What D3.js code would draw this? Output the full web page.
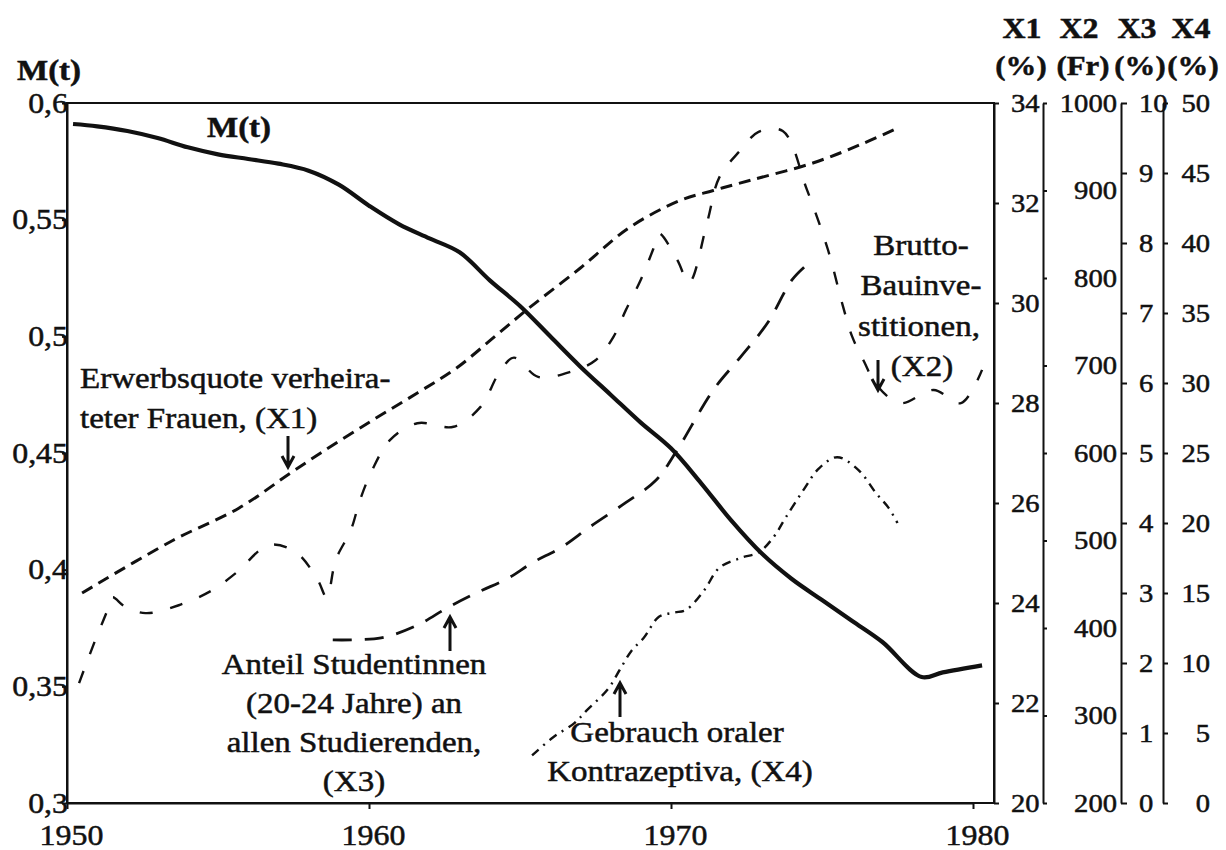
<!DOCTYPE html>
<html>
<head>
<meta charset="utf-8">
<script src="https://cdn.jsdelivr.net/npm/d3@7"></script>
<style>
  html, body { margin: 0; padding: 0; background: #fff; }
  svg { display: block; }
</style>
</head>
<body>
<svg id="chart" width="1226" height="850"></svg>
<script>
// ---------- data ----------
// M(t), left axis
const mYears  = [1950.2, 1951, 1952, 1953, 1954, 1955, 1956, 1957, 1958, 1959, 1960, 1961, 1962, 1963, 1964, 1965, 1966, 1967, 1968, 1969, 1970, 1971, 1972, 1973, 1974, 1975, 1976, 1977, 1978.3, 1979, 1980.3];
const mValues = [0.591, 0.590, 0.588, 0.585, 0.581, 0.578, 0.576, 0.574, 0.571, 0.565, 0.556, 0.548, 0.542, 0.536, 0.524, 0.513, 0.500, 0.487, 0.475, 0.463, 0.452, 0.437, 0.421, 0.407, 0.396, 0.387, 0.378, 0.369, 0.354, 0.356, 0.359];

// X1: Erwerbsquote verheirateter Frauen (%)
const x1Years  = [1950.5, 1953.5, 1955.7, 1957.4, 1958.4, 1960.1, 1961.6, 1962.9, 1964.3, 1965.3, 1967.0, 1968.6, 1970.3, 1971.4, 1972.6, 1974.7, 1976.4, 1977.5];
const x1Values = [24.2, 25.25, 25.9, 26.6, 27.0, 27.65, 28.2, 28.7, 29.4, 29.9, 30.7, 31.5, 32.05, 32.25, 32.45, 32.8, 33.2, 33.5];

// X2: Brutto-Bauinvestitionen (Fr)
const x2Years  = [1950.4, 1950.9, 1951.3, 1951.5, 1951.9, 1952.6, 1953.7, 1954.8, 1955.6, 1956.7, 1957.6, 1958.3, 1958.6, 1958.9, 1959.4, 1959.7, 1960.1, 1960.7, 1961.6, 1962.8, 1963.7, 1964.3, 1964.8, 1965.6, 1966.7, 1967.5, 1968.1, 1968.5, 1969.0, 1969.4, 1969.6, 1970.2, 1970.6, 1971.2, 1971.6, 1972.3, 1972.9, 1973.7, 1974.5, 1975.2, 1975.7, 1976.0, 1976.4, 1976.8, 1977.6, 1978.7, 1979.6, 1980.3];
const x2Values = [337, 383, 417, 435, 425, 417, 426, 443, 463, 495, 486, 455, 435, 478, 512, 546, 580, 615, 634, 630, 653, 691, 709, 687, 693, 706, 733, 763, 798, 832, 851, 821, 795, 864, 915, 946, 967, 968, 901, 832, 767, 733, 704, 678, 657, 672, 657, 695];

// X3: Anteil Studentinnen (20-24 Jahre) an allen Studierenden (%)
const x3Years  = [1958.8, 1960.4, 1961.6, 1962.6, 1963.6, 1964.6, 1965.4, 1966.4, 1967.3, 1968.5, 1969.5, 1970.2, 1971.4, 1972.3, 1973.2, 1974.0, 1974.5];
const x3Values = [2.33, 2.36, 2.54, 2.79, 3.01, 3.21, 3.43, 3.66, 3.94, 4.29, 4.61, 5.04, 5.9, 6.37, 6.86, 7.47, 7.69];

// X4: Gebrauch oraler Kontrazeptiva (%)
const x4Years  = [1965.4, 1966.1, 1966.8, 1967.2, 1967.9, 1968.3, 1968.7, 1969.1, 1969.6, 1970.1, 1970.5, 1971.1, 1971.6, 1972.3, 1972.9, 1973.4, 1973.8, 1974.4, 1974.9, 1975.5, 1976.2, 1976.8, 1977.2, 1977.5];
const x4Values = [3.4, 4.7, 5.7, 6.6, 8.1, 9.5, 10.9, 11.8, 13.3, 13.6, 13.8, 15.2, 16.8, 17.5, 17.9, 19.0, 20.4, 22.4, 23.9, 24.7, 23.8, 22.1, 21.1, 20.0];

// tick values
const yearTicks = [1950, 1960, 1970, 1980];
const mTicks  = [0.3, 0.35, 0.4, 0.45, 0.5, 0.55, 0.6];
const x1Ticks = [20, 22, 24, 26, 28, 30, 32, 34];
const x2Ticks = [200, 300, 400, 500, 600, 700, 800, 900, 1000];
const x3Ticks = [0, 1, 2, 3, 4, 5, 6, 7, 8, 9, 10];
const x4Ticks = [0, 5, 10, 15, 20, 25, 30, 35, 40, 45, 50];

// ---------- layout ----------
const FONT = "'Liberation Serif', 'Times New Roman', Times, serif";
const SX = 1.1; // horizontal widening of all lettering
const INK = "#111";
const plotLeft = 67, plotRight = 994, plotTop = 103, plotBottom = 803;

const svg = d3.select("#chart");

const x  = d3.scaleLinear().domain([1950, 1980]).range([plotLeft, 973]);
const yM = d3.scaleLinear().domain([0.3, 0.6]).range([plotBottom, plotTop]);
const y1 = d3.scaleLinear().domain([20, 34]).range([plotBottom, plotTop]);
const y2 = d3.scaleLinear().domain([200, 1000]).range([plotBottom, plotTop]);
const y3 = d3.scaleLinear().domain([0, 10]).range([plotBottom, plotTop]);
const y4 = d3.scaleLinear().domain([0, 50]).range([plotBottom, plotTop]);

function widenTicks(g, size) {
  g.selectAll(".tick text").each(function () {
    const t = d3.select(this);
    const tx = +t.attr("x") || 0;
    t.attr("x", tx / SX).attr("transform", `scale(${SX},1)`);
  });
  g.attr("font-family", FONT).attr("font-size", size);
  g.selectAll("text").attr("fill", INK).attr("stroke", INK).attr("stroke-width", 0.5);
  g.selectAll("line, path").attr("stroke", INK).attr("stroke-width", 2);
}

function label(str, px, py, opts = {}) {
  const g = svg.append("g").attr("transform", `translate(${px},${py}) scale(${SX},1)`);
  g.append("text")
    .attr("font-family", FONT)
    .attr("font-size", opts.size || 30)
    .attr("font-weight", opts.bold ? "bold" : "normal")
    .attr("text-anchor", opts.anchor || "start")
    .attr("fill", INK)
    .attr("stroke", INK)
    .attr("stroke-width", 0.5)
    .text(str);
}

// ---------- frame & axes ----------
svg.append("rect")
  .attr("x", plotLeft).attr("y", plotTop)
  .attr("width", plotRight - plotLeft).attr("height", plotBottom - plotTop)
  .attr("fill", "none").attr("stroke", INK).attr("stroke-width", 2);

const gLeft = svg.append("g").attr("transform", `translate(${plotLeft},0)`)
  .call(d3.axisLeft(yM).tickValues(mTicks).tickSize(5).tickSizeOuter(0).tickPadding(-6)
    .tickFormat(d => d3.format(".2~f")(d).replace(".", ",")));
widenTicks(gLeft, 29);

const gBottom = svg.append("g").attr("transform", `translate(0,${plotBottom})`)
  .call(d3.axisBottom(x).tickValues(yearTicks).tickSize(6).tickSizeOuter(0).tickPadding(15)
    .tickFormat(d3.format("d")));
gBottom.selectAll(".tick text").attr("x", 4);
widenTicks(gBottom, 29);

const g1 = svg.append("g").attr("transform", `translate(${plotRight},0)`)
  .call(d3.axisRight(y1).tickValues(x1Ticks).tickSize(5).tickSizeOuter(0).tickPadding(12)
    .tickFormat(d3.format("d")));
widenTicks(g1, 26);

const g2 = svg.append("g").attr("transform", "translate(1043,0)")
  .call(d3.axisRight(y2).tickValues(x2Ticks).tickSize(4).tickSizeOuter(0).tickPadding(70)
    .tickFormat(d3.format("d")));
g2.selectAll(".tick text").attr("text-anchor", "end");
widenTicks(g2, 26);

const g3 = svg.append("g").attr("transform", "translate(1121,0)")
  .call(d3.axisRight(y3).tickValues(x3Ticks).tickSize(6).tickSizeOuter(0).tickPadding(12)
    .tickFormat(d3.format("d")));
widenTicks(g3, 26);

const g4 = svg.append("g").attr("transform", "translate(1163,0)")
  .call(d3.axisRight(y4).tickValues(x4Ticks).tickSize(5).tickSizeOuter(0).tickPadding(42)
    .tickFormat(d3.format("d")));
g4.selectAll(".tick text").attr("text-anchor", "end");
widenTicks(g4, 26);

// axis headers
label("M(t)", 17, 80, { bold: true, size: 30 });
[["X1", 1022], ["X2", 1079], ["X3", 1137], ["X4", 1191]].forEach(([s, cx]) =>
  label(s, cx, 38, { bold: true, size: 29, anchor: "middle" }));
[["(%)", 1021], ["(Fr)", 1083], ["(%)", 1140], ["(%)", 1193]].forEach(([s, cx]) =>
  label(s, cx, 75, { bold: true, size: 28, anchor: "middle" }));

// ---------- series ----------
function drawSeries(years, values, yScale, style) {
  const pts = years.map((yr, i) => [yr, values[i]]);
  const line = d3.line()
    .x(d => x(d[0]))
    .y(d => yScale(d[1]))
    .curve(d3.curveCatmullRom.alpha(0.5));
  svg.append("path")
    .datum(pts)
    .attr("d", line)
    .attr("fill", "none")
    .attr("stroke", INK)
    .attr("stroke-width", style.width)
    .attr("stroke-linecap", "butt")
    .attr("stroke-linejoin", "round")
    .attr("stroke-dasharray", style.dash || null);
}

drawSeries(x2Years, x2Values, y2, { width: 2.4, dash: "13,18" });
drawSeries(x3Years, x3Values, y3, { width: 2.8, dash: "19,13" });
drawSeries(x4Years, x4Values, y4, { width: 2.4, dash: "9,6,2,6" });
drawSeries(x1Years, x1Values, y1, { width: 3, dash: "12,7" });
drawSeries(mYears, mValues, yM, { width: 4.2 });

// ---------- annotations ----------
function arrow(ax, yFrom, yTo) {
  const dir = yTo > yFrom ? 1 : -1;
  svg.append("path")
    .attr("d", `M${ax},${yFrom}L${ax},${yTo}M${ax - 6},${yTo - dir * 11}L${ax},${yTo}L${ax + 6},${yTo - dir * 11}`)
    .attr("fill", "none").attr("stroke", INK).attr("stroke-width", 3);
}

label("M(t)", 207, 137, { bold: true, size: 30 });

label("Erwerbsquote verheira-", 80, 388);
label("teter Frauen, (X1)", 80, 428);
arrow(288, 436, 467);

label("Brutto-", 921, 255, { anchor: "middle" });
label("Bauinve-", 921, 295, { anchor: "middle" });
label("stitionen,", 919, 336, { anchor: "middle" });
label("(X2)", 922, 376, { anchor: "middle" });
arrow(878, 360, 390);

label("Anteil Studentinnen", 354, 674, { anchor: "middle" });
label("(20-24 Jahre) an", 354, 713, { anchor: "middle" });
label("allen Studierenden,", 354, 752, { anchor: "middle" });
label("(X3)", 354, 791, { anchor: "middle" });
arrow(450, 651, 617);

label("Gebrauch oraler", 677, 742, { anchor: "middle" });
label("Kontrazeptiva, (X4)", 680, 781, { anchor: "middle" });
arrow(620, 717, 683);
</script>
</body>
</html>
